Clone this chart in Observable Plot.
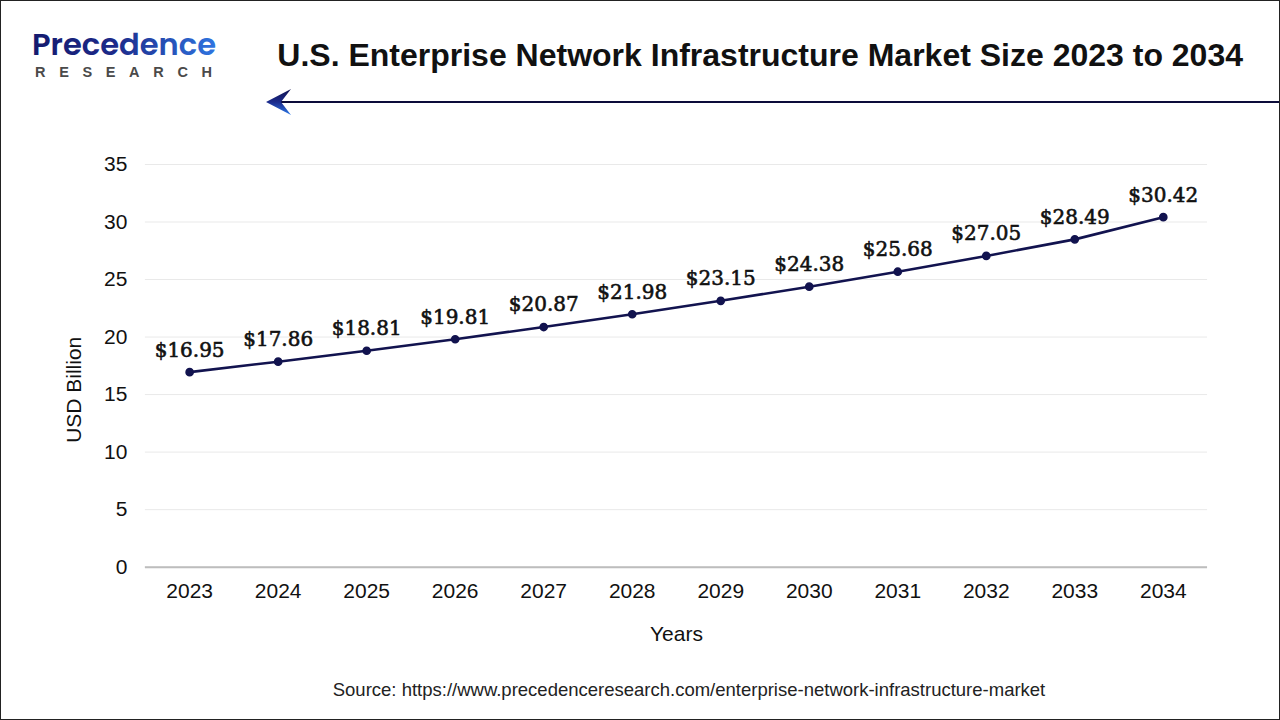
<!DOCTYPE html>
<html>
<head>
<meta charset="utf-8">
<script src="https://cdn.jsdelivr.net/npm/d3@7"></script>
<script src="https://cdn.jsdelivr.net/npm/@observablehq/plot@0.6"></script>
<style>
  html, body { margin: 0; padding: 0; background: #fff; }
  #page { position: relative; width: 1280px; height: 720px; box-sizing: border-box; border: 1px solid #222; overflow: hidden; font-family: "Liberation Sans", Arial, sans-serif; }
  #logo { position: absolute; left: -1px; top: -1px; }
  #title { position: absolute; left: 200px; width: 1042px; top: 35px; text-align: right; font-size: 32px; font-weight: bold; color: #111; white-space: nowrap; line-height: 38px; }
  #arrow { position: absolute; left: -1px; top: 79px; }
  #chart { position: absolute; left: -1px; top: 129px; }
  #source { position: absolute; left: 0; width: 1376px; top: 678px; text-align: center; font-size: 18.5px; color: #222; line-height: 22px; }
</style>
</head>
<body>
<div id="page">
  <svg id="logo" width="260" height="80">
    <defs>
      <linearGradient id="lg" x1="0" x2="1" y1="0" y2="0">
        <stop offset="0" stop-color="#141a6e"/>
        <stop offset="0.45" stop-color="#1d2a8a"/>
        <stop offset="1" stop-color="#2f74e0"/>
      </linearGradient>
    </defs>
    <text x="32" y="55" font-family="Poppins, 'Open Sans', sans-serif" font-size="30" font-weight="600" fill="url(#lg)" textLength="184" lengthAdjust="spacingAndGlyphs">Precedence</text>
    <text x="35" y="77" font-family="'Liberation Sans', Arial" font-size="14.5" font-weight="bold" fill="#4a4a4a" textLength="177" lengthAdjust="spacing">RESEARCH</text>
  </svg>
  <div id="title">U.S. Enterprise Network Infrastructure Market Size 2023 to 2034</div>
  <svg id="arrow" width="1282" height="40">
    <defs>
      <linearGradient id="ag" x1="0" x2="0" y1="0" y2="1">
        <stop offset="0" stop-color="#10124e"/>
        <stop offset="0.5" stop-color="#1b2a8c"/>
        <stop offset="1" stop-color="#2d7ae8"/>
      </linearGradient>
    </defs>
    <line x1="275" x2="1282" y1="22" y2="22" stroke="#0c0c3a" stroke-width="2.2"/>
    <polygon points="266,22 291,9 281,22 291,35" fill="url(#ag)"/>
  </svg>
  <div id="chart"></div>
  <div id="source">Source: https://www.precedenceresearch.com/enterprise-network-infrastructure-market</div>
</div>
<script>
const years = ["2023","2024","2025","2026","2027","2028","2029","2030","2031","2032","2033","2034"];
const values = [16.95, 17.86, 18.81, 19.81, 20.87, 21.98, 23.15, 24.38, 25.68, 27.05, 28.49, 30.42];
const yTicks = [0, 5, 10, 15, 20, 25, 30, 35];
const xTitle = "Years";
const yTitle = "USD Billion";

const data = years.map((y, i) => ({year: y, value: values[i]}));
const lineColor = "#12134f";

const chart = Plot.plot({
  width: 1280,
  height: 520,
  marginLeft: 145,
  marginRight: 72,
  marginTop: 34,
  marginBottom: 83,
  style: {fontFamily: "'Liberation Sans', Arial, sans-serif", fontSize: "21px", color: "#111", background: "transparent"},
  x: {type: "point", domain: years, padding: 0.5, round: false, label: null},
  y: {domain: [0, 35], label: null},
  marks: [
    Plot.gridY(yTicks, {stroke: "#e9e9e9", strokeOpacity: 1, strokeWidth: 1}),
    Plot.axisY(yTicks, {tickSize: 0, tickPadding: 18, label: null, fontSize: 21, fill: "#111"}),
    Plot.axisX(years, {tickSize: 0, tickPadding: 16, label: null, fontSize: 21, fill: "#111"}),
    Plot.ruleY([0], {stroke: "#bdbdbd", strokeWidth: 2}),
    Plot.line(data, {x: "year", y: "value", stroke: lineColor, strokeWidth: 2.6}),
    Plot.dot(data, {x: "year", y: "value", r: 3.6, fill: lineColor, stroke: lineColor}),
    Plot.text(data, {x: "year", y: "value", text: d => "$" + d.value.toFixed(2), dy: -22, fontFamily: "'DejaVu Serif', serif", fontSize: 20, fill: "#111", stroke: "#111", strokeWidth: 0.6}),
    Plot.text([xTitle], {frameAnchor: "bottom", dy: 74, fontSize: 21, fill: "#111"}),
    Plot.text([yTitle], {frameAnchor: "left", textAnchor: "middle", rotate: -90, dx: -71, dy: 24, fontSize: 21, fill: "#111"})
  ]
});
document.getElementById("chart").appendChild(chart);
</script>
</body>
</html>
